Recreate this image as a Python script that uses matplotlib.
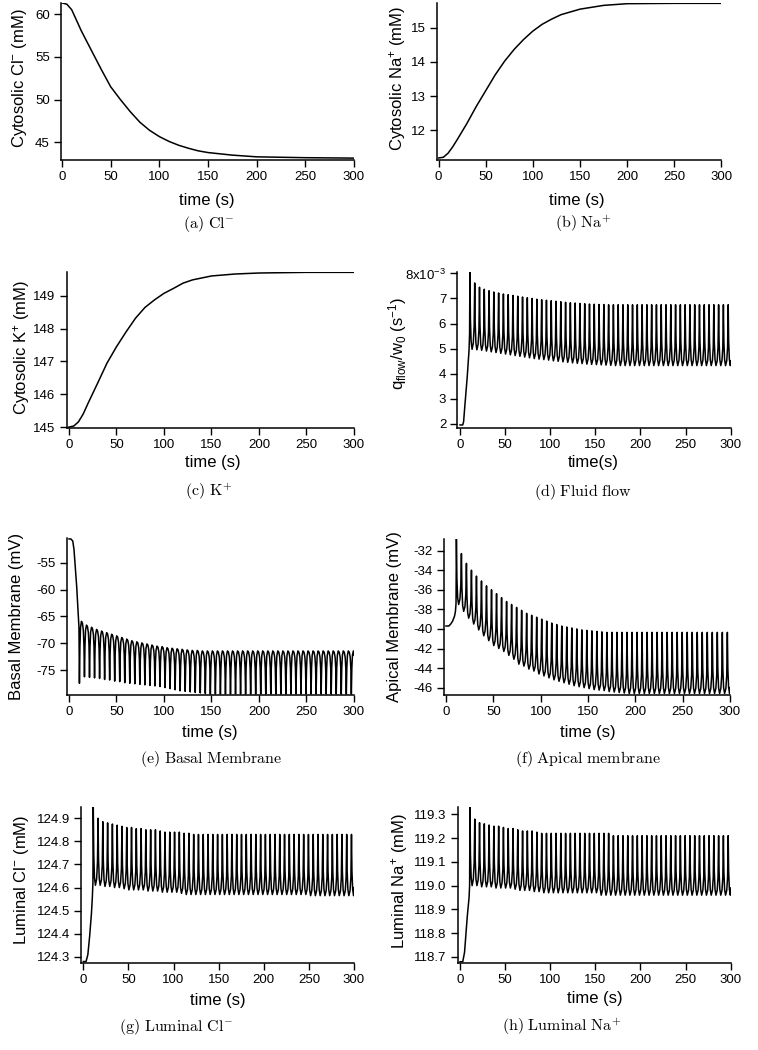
import matplotlib
matplotlib.use("Agg")
import matplotlib.pyplot as plt

plt.rcParams['font.family'] = ['Liberation Sans', 'DejaVu Sans']
plt.rcParams['axes.unicode_minus'] = False
plt.rcParams['mathtext.fontset'] = 'custom'
plt.rcParams['mathtext.rm'] = 'Liberation Sans'
plt.rcParams['mathtext.it'] = 'Liberation Sans:italic'
plt.rcParams['mathtext.bf'] = 'Liberation Sans:bold'

# ---------------- data ----------------
x_ticks = [0, 50, 100, 150, 200, 250, 300]

# smooth cytosolic curves
cl_t = [0, 5, 10, 20, 30, 40, 50, 60, 70, 80, 90, 100, 110, 120, 130, 140, 150, 175, 200, 250, 300]
cl_v = [61.3, 61.15, 60.5, 58.0, 55.8, 53.6, 51.5, 50.0, 48.6, 47.35, 46.4, 45.67, 45.1, 44.65,
        44.3, 44.0, 43.8, 43.5, 43.3, 43.2, 43.15]

na_t = [0, 5, 10, 15, 20, 30, 40, 50, 60, 70, 80, 90, 100, 110, 120, 130, 150, 175, 200, 250, 300]
na_v = [11.19, 11.21, 11.33, 11.52, 11.74, 12.2, 12.7, 13.16, 13.62, 14.02, 14.36, 14.65, 14.9,
        15.1, 15.25, 15.38, 15.54, 15.65, 15.7, 15.71, 15.71]

k_t = [0, 5, 10, 15, 20, 30, 40, 50, 60, 70, 80, 90, 100, 110, 120, 130, 150, 175, 200, 250, 300]
k_v = [145.0, 145.03, 145.16, 145.4, 145.72, 146.33, 146.95, 147.45, 147.9, 148.32, 148.65,
       148.88, 149.08, 149.23, 149.39, 149.49, 149.61, 149.67, 149.7, 149.72, 149.72]

# times of the calcium-driven spikes (s)
spike_times = [11.0, 16.3, 21.6, 26.9, 32.2, 37.5, 42.8, 48.1, 53.4, 58.7, 64.0, 69.3, 74.6,
               79.9, 85.2, 90.5, 95.8, 101.1, 106.4, 111.7, 117.0, 122.3, 127.6, 132.9, 138.2,
               143.5, 148.8, 154.1, 159.4, 164.7, 170.0, 175.3, 180.6, 185.9, 191.2, 196.5,
               201.8, 207.1, 212.4, 217.7, 223.0, 228.3, 233.6, 238.9, 244.2, 249.5, 254.8,
               260.1, 265.4, 270.7, 276.0, 281.3, 286.6, 291.9, 297.2]

# fluid flow (x1e-3 s^-1)
flow_pre_t = [0, 3, 4, 5, 8, 10, 10.6]
flow_pre_v = [1.95, 1.95, 2.08, 2.55, 3.87, 4.93, 5.6]
flow_hi = [8.07, 7.62, 7.45, 7.37, 7.31, 7.26, 7.22, 7.18, 7.15, 7.12, 7.09, 7.06, 7.03, 7.00,
           6.97, 6.95, 6.93, 6.91, 6.89, 6.87, 6.85, 6.83, 6.82, 6.80, 6.79, 6.78, 6.77, 6.76,
           6.76, 6.75] + [6.75] * 25
flow_lo = [4.97, 4.95, 4.93, 4.90, 4.87, 4.84, 4.81, 4.78, 4.75, 4.72, 4.69, 4.66, 4.63, 4.60,
           4.58, 4.56, 4.54, 4.51, 4.49, 4.47, 4.45, 4.43, 4.41, 4.40, 4.38, 4.37, 4.36, 4.35,
           4.34, 4.33] + [4.32] * 25
flow_end = 4.5

# basal membrane potential (mV)
basal_pre_t = [0, 2, 4, 5.3, 8.1, 10.5]
basal_pre_v = [-50.6, -50.6, -51.0, -52.6, -59.4, -67.0]
basal_lo = [-77.4, -76.2, -76.3, -76.4, -76.5, -76.7, -76.8, -77.0, -77.1, -77.3, -77.4, -77.5,
            -77.6, -77.7, -77.8, -77.9, -78.0, -78.2, -78.4, -78.6, -78.8, -78.9, -79.0, -79.1,
            -79.2, -79.3] + [-79.4] * 29
basal_hi = [-65.9, -66.6, -67.0, -67.4, -67.7, -68.0, -68.3, -68.6, -68.9, -69.2, -69.5, -69.7,
            -69.9, -70.1, -70.3, -70.5, -70.6, -70.8, -70.9, -71.0, -71.1, -71.2, -71.3, -71.3,
            -71.4] + [-71.4] * 30
basal_end = -72.2

# apical membrane potential (mV)
apical_pre_t = [0, 3, 5, 7, 9, 10, 10.6]
apical_pre_v = [-39.7, -39.7, -39.5, -39.2, -38.7, -38.2, -37.4]
apical_hi = [-30.8, -32.3, -33.3, -34.0, -34.6, -35.1, -35.6, -36.0, -36.4, -36.8, -37.2, -37.5,
             -37.8, -38.1, -38.4, -38.6, -38.8, -39.0, -39.2, -39.4, -39.55, -39.7, -39.8, -39.9,
             -40.0, -40.1, -40.15, -40.2, -40.25, -40.3] + [-40.35] * 25
apical_lo = [-37.5, -38.2, -38.9, -39.5, -40.1, -40.7, -41.2, -41.7, -42.0, -42.3, -42.7, -43.1,
             -43.6, -43.8, -44.1, -44.3, -44.6, -44.8, -45.0, -45.2, -45.35, -45.5, -45.65, -45.8,
             -45.9, -46.0, -46.1, -46.2, -46.25, -46.3, -46.4, -46.45, -46.5, -46.55,
             -46.6] + [-46.6] * 20
apical_end = -46.0

# luminal Cl- (mM)
lcl_pre_t = [0, 3, 5, 7, 9, 10, 10.6]
lcl_pre_v = [124.28, 124.28, 124.31, 124.39, 124.49, 124.56, 124.62]
lcl_hi = [124.95, 124.90, 124.885, 124.88, 124.875, 124.87, 124.865, 124.86, 124.86, 124.855,
          124.855, 124.85, 124.85, 124.85, 124.845, 124.84, 124.84, 124.84, 124.84, 124.835,
          124.835] + [124.83] * 34
lcl_lo = [124.61, 124.61, 124.605, 124.605, 124.60, 124.60, 124.595, 124.59, 124.59, 124.59,
          124.59, 124.585, 124.585, 124.585, 124.58, 124.58, 124.58, 124.58, 124.575, 124.57,
          124.57] + [124.57] * 24 + [124.565] * 10
lcl_end = 124.6

# luminal Na+ (mM)
lna_pre_t = [0, 3, 5, 8, 10, 10.6]
lna_pre_v = [118.68, 118.68, 118.72, 118.87, 118.95, 119.0]
lna_hi = [119.33, 119.28, 119.265, 119.26, 119.255, 119.25, 119.25, 119.245, 119.24, 119.24,
          119.235, 119.23, 119.23, 119.23, 119.225, 119.22] + [119.22] * 14 + [119.21] * 25
lna_lo = [119.0, 119.0, 118.995, 118.995, 118.995, 118.99, 118.99, 118.99, 118.99, 118.985,
          118.98, 118.98, 118.98, 118.975, 118.975, 118.97, 118.97] + [118.97] * 10 + [118.96] * 28
lna_end = 118.99

# ---------------- styling / shape of one oscillation cycle ----------------
SPIKE_UP = [(0.0, 1.0), (0.1, 0.4), (0.25, 0.1), (0.45, 0.0), (0.7, 0.08), (0.88, 0.3)]
SPIKE_DOWN = [(0.0, 0.0), (0.1, 0.6), (0.22, 0.9), (0.4, 1.0), (0.6, 0.97), (0.78, 0.85), (0.9, 0.6)]


def osc_curve(pre_t, pre_v, lo, hi, end_v, shape):
    ts, vs = list(pre_t), list(pre_v)
    n = len(spike_times)
    for k in range(n):
        t0 = spike_times[k]
        gap = (spike_times[k + 1] - t0) if k + 1 < n else (t0 - spike_times[k - 1])
        for ph, fr in shape:
            t = t0 + ph * gap
            if t >= 300:
                break
            ts.append(t)
            vs.append(lo[k] + fr * (hi[k] - lo[k]))
    ts.append(300.0)
    vs.append(end_v)
    return ts, vs


W, H = 758, 1050
fig = plt.figure(figsize=(W / 100, H / 100), dpi=100)
fig.patch.set_facecolor('white')

TICK_FS = 9.5
LAB_FS = 12
CAP_FS = 11.5


def make_ax(x0, x1, top, bottom, xlim, ylim, yticks, yticklabels=None):
    ax = fig.add_axes([x0 / W, 1 - bottom / H, (x1 - x0) / W, (bottom - top) / H])
    for s in ('top', 'right'):
        ax.spines[s].set_visible(False)
    for s in ('left', 'bottom'):
        ax.spines[s].set_linewidth(1.1)
    ax.set_xlim(*xlim)
    ax.set_ylim(*ylim)
    ax.set_xticks(x_ticks)
    ax.set_yticks(yticks)
    if yticklabels is not None:
        ax.set_yticklabels(yticklabels)
    ax.tick_params(direction='out', length=5, width=1, labelsize=TICK_FS, pad=3, color='black')
    ax.patch.set_alpha(0)
    return ax


def ylab(x, y, s):
    fig.text(x / W, 1 - y / H, s, rotation=90, ha='center', va='center', fontsize=LAB_FS)


def xlab(x, y, s):
    fig.text(x / W, 1 - y / H, s, ha='center', va='center', fontsize=LAB_FS)


def caption(x, y, s):
    fig.text(x / W, 1 - y / H, s, ha='center', va='center', fontsize=CAP_FS, math_fontfamily='cm')


LW = 1.1

# (a) cytosolic Cl-
ax = make_ax(61, 354, 3, 160, (-1.0, 300), (42.93, 61.29), [45, 50, 55, 60])
ax.plot(cl_t, cl_v, color='black', lw=LW)
ylab(20, 78, r'Cytosolic Cl$^{\mathrm{-}}$ (mM)')
xlab(207, 200, 'time (s)')
caption(209, 224, r'$\mathrm{(a)\ Cl^{-}}$')

# (b) cytosolic Na+
ax = make_ax(436.7, 721.3, 3, 160, (-2.1, 300), (11.13, 15.72), [12, 13, 14, 15])
ax.plot(na_t, na_v, color='black', lw=LW)
ylab(398, 78, r'Cytosolic Na$^{+}$ (mM)')
xlab(577, 200, 'time (s)')
caption(583, 224, r'$\mathrm{(b)\ Na^{+}}$')

# (c) cytosolic K+
ax = make_ax(66.7, 354, 271.7, 427.7, (-2.4, 300), (144.98, 149.74), [145, 146, 147, 148, 149])
ax.plot(k_t, k_v, color='black', lw=LW)
ylab(22, 348, r'Cytosolic K$^{+}$ (mM)')
xlab(213, 463, 'time (s)')
caption(209, 492, r'$\mathrm{(c)\ K^{+}}$')

# (d) fluid flow
ax = make_ax(457.3, 730.7, 271.7, 427.7, (-3.0, 300), (1.84, 8.07), [2, 3, 4, 5, 6, 7, 8],
             ['2', '3', '4', '5', '6', '7', r'8x10$^{\mathrm{-3}}$'])
t, v = osc_curve(flow_pre_t, flow_pre_v, flow_lo, flow_hi, flow_end, SPIKE_UP)
ax.plot(t, v, color='black', lw=LW)
ylab(398, 343, r'q$_{\mathrm{flow}}$/w$_{\mathrm{0}}$ (s$^{\mathrm{-1}}$)')
xlab(593, 463, 'time(s)')
caption(583, 492, r'$\mathrm{(d)\ Fluid\ flow}$')

# (e) basal membrane
ax = make_ax(66.7, 354, 538.3, 695, (-2.4, 300), (-79.58, -50.48), [-75, -70, -65, -60, -55])
t, v = osc_curve(basal_pre_t, basal_pre_v, basal_lo, basal_hi, basal_end, SPIKE_DOWN)
ax.plot(t, v, color='black', lw=LW)
ylab(17, 616, 'Basal Membrane (mV)')
xlab(210, 733, 'time (s)')
caption(211, 759, r'$\mathrm{(e)\ Basal\ Membrane}$')

# (f) apical membrane
ax = make_ax(444, 730, 539, 695, (-2.1, 300), (-46.75, -30.81), [-46, -44, -42, -40, -38, -36, -34, -32])
t, v = osc_curve(apical_pre_t, apical_pre_v, apical_lo, apical_hi, apical_end, SPIKE_UP)
ax.plot(t, v, color='black', lw=LW)
ylab(395, 617, 'Apical Membrane (mV)')
xlab(588, 733, 'time (s)')
caption(588, 759, r'$\mathrm{(f)\ Apical\ membrane}$')

# (g) luminal Cl-
ax = make_ax(81, 354, 806.7, 962.7, (-2.6, 300), (124.275, 124.95),
             [124.3, 124.4, 124.5, 124.6, 124.7, 124.8, 124.9])
ax.set_yticklabels(['124.3', '124.4', '124.5', '124.6', '124.7', '124.8', '124.9'])
t, v = osc_curve(lcl_pre_t, lcl_pre_v, lcl_lo, lcl_hi, lcl_end, SPIKE_UP)
ax.plot(t, v, color='black', lw=LW)
ylab(22, 880, r'Luminal Cl$^{\mathrm{-}}$ (mM)')
xlab(218, 1000, 'time (s)')
caption(176, 1027, r'$\mathrm{(g)\ Luminal\ Cl^{-}}$')

# (h) luminal Na+
ax = make_ax(457.7, 730.7, 806.7, 962.7, (-2.6, 300), (118.676, 119.332),
             [118.7, 118.8, 118.9, 119.0, 119.1, 119.2, 119.3])
ax.set_yticklabels(['118.7', '118.8', '118.9', '119.0', '119.1', '119.2', '119.3'])
t, v = osc_curve(lna_pre_t, lna_pre_v, lna_lo, lna_hi, lna_end, SPIKE_UP)
ax.plot(t, v, color='black', lw=LW)
ylab(400, 881, r'Luminal Na$^{+}$ (mM)')
xlab(595, 999, 'time (s)')
caption(562, 1027, r'$\mathrm{(h)\ Luminal\ Na^{+}}$')

fig.savefig('out.png', dpi=100, facecolor='white')
